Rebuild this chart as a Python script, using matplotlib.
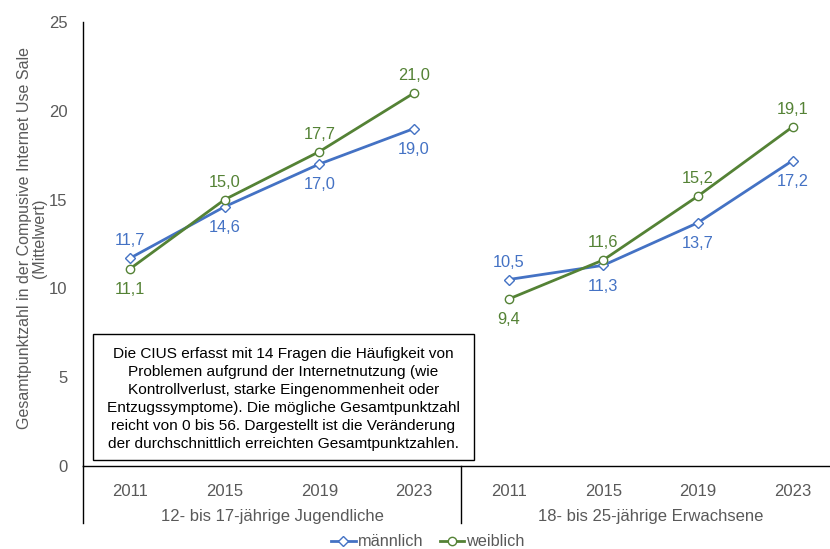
import matplotlib
matplotlib.use("Agg")
import matplotlib.pyplot as plt
from matplotlib.patches import Rectangle

plt.rcParams['font.family'] = ['Liberation Sans', 'DejaVu Sans']

years = ["2011", "2015", "2019", "2023"]
groups = ["12- bis 17-jährige Jugendliche", "18- bis 25-jährige Erwachsene"]
maennlich = [[11.7, 14.6, 17.0, 19.0], [10.5, 11.3, 13.7, 17.2]]
weiblich = [[11.1, 15.0, 17.7, 21.0], [9.4, 11.6, 15.2, 19.1]]
# label placement: +1 above, -1 below
m_pos = [[1, -1, -1, -1], [1, -1, -1, -1]]
w_pos = [[-1, 1, 1, 1], [-1, 1, 1, 1]]
yticks = [0, 5, 10, 15, 20, 25]
ylabel = "Gesamtpunktzahl in der Compusive Internet Use Sale\n(Mittelwert)"
note = ("Die CIUS erfasst mit 14 Fragen die Häufigkeit von\n"
        "Problemen aufgrund der Internetnutzung (wie\n"
        "Kontrollverlust, starke Eingenommenheit oder\n"
        "Entzugssymptome). Die mögliche Gesamtpunktzahl\n"
        "reicht von 0 bis 56. Dargestellt ist die Veränderung\n"
        "der durchschnittlich erreichten Gesamtpunktzahlen.")

BLUE = "#4472C4"
GREEN = "#548235"
GREY = "#595959"

W, H = 830, 549
fig = plt.figure(figsize=(W / 100, H / 100), dpi=100)
left, right, top, bottom = 82.6, 840, 22, 466
ax = fig.add_axes([left / W, (H - bottom) / H, (right - left) / W, (bottom - top) / H])

def off(p):
    return 12.5 if p > 0 else -15.0

ng = len(years)
for gi in range(len(groups)):
    xs = [gi * ng + i for i in range(ng)]
    ax.plot(xs, maennlich[gi], color=BLUE, lw=2.0, marker="D", ms=5.5,
            mfc="white", mec=BLUE, mew=1.0, zorder=3,
            label="männlich" if gi == 0 else None)
    ax.plot(xs, weiblich[gi], color=GREEN, lw=2.0, marker="o", ms=6,
            mfc="white", mec=GREEN, mew=1.0, zorder=3,
            label="weiblich" if gi == 0 else None)
    for x, v, p in zip(xs, maennlich[gi], m_pos[gi]):
        ax.annotate(f"{v:.1f}".replace(".", ","), (x, v), xytext=(0, off(p)),
                    textcoords="offset points", ha="center", va="center",
                    color=BLUE, fontsize=11.8)
    for x, v, p in zip(xs, weiblich[gi], w_pos[gi]):
        ax.annotate(f"{v:.1f}".replace(".", ","), (x, v), xytext=(0, off(p)),
                    textcoords="offset points", ha="center", va="center",
                    color=GREEN, fontsize=11.8)

ax.set_xlim(-0.5, len(groups) * ng - 0.5)
ax.set_ylim(0, 25)
ax.set_yticks(yticks)
ax.set_yticklabels([str(t) for t in yticks])
ax.set_xticks(range(len(groups) * ng))
ax.set_xticklabels(years * len(groups))
ax.tick_params(axis="both", length=0, labelsize=12, colors=GREY)
ax.tick_params(axis="x", pad=13)
ax.tick_params(axis="y", pad=11)
for s in ["top", "right"]:
    ax.spines[s].set_visible(False)
for s in ["left", "bottom"]:
    ax.spines[s].set_color("black")
    ax.spines[s].set_linewidth(1.0)

ax.set_ylabel(ylabel, fontsize=11.5, color=GREY, linespacing=1.0)
ax.yaxis.set_label_coords((47.5 - left) / (right - left), (bottom - 238) / (bottom - top))

# group separators and group labels
trans = ax.get_xaxis_transform()
ylow = -(523 - bottom) / (bottom - top)
for gi in range(len(groups)):
    xb = gi * ng - 0.5
    ax.plot([xb, xb], [0, ylow], transform=trans, color="black", lw=1.0, clip_on=False)
for gi, g in enumerate(groups):
    xc = gi * ng + (ng - 1) / 2
    ax.text(xc, -(517 - bottom) / (bottom - top), g, transform=trans,
            ha="center", va="center", fontsize=12, color=GREY)

# note box
bx0, bx1, by0, by1 = 93, 474, 334, 460
fig.patches.append(Rectangle((bx0 / W, (H - by1) / H), (bx1 - bx0) / W, (by1 - by0) / H,
                             transform=fig.transFigure, fill=True, facecolor="white",
                             edgecolor="black", lw=1.0, zorder=5))
fig.text((bx0 + bx1) / 2 / W, (H - (by0 + by1) / 2 - 2) / H, note, ha="center", va="center",
         fontsize=11.1, color="black", linespacing=1.37, zorder=6)

fig.legend(loc="center", bbox_to_anchor=(428 / W, (H - 542) / H), ncol=2, frameon=False,
           fontsize=11.7, handlelength=1.5, handletextpad=0.15, columnspacing=1.0,
           labelcolor=GREY)

fig.savefig("out.png", dpi=100)
